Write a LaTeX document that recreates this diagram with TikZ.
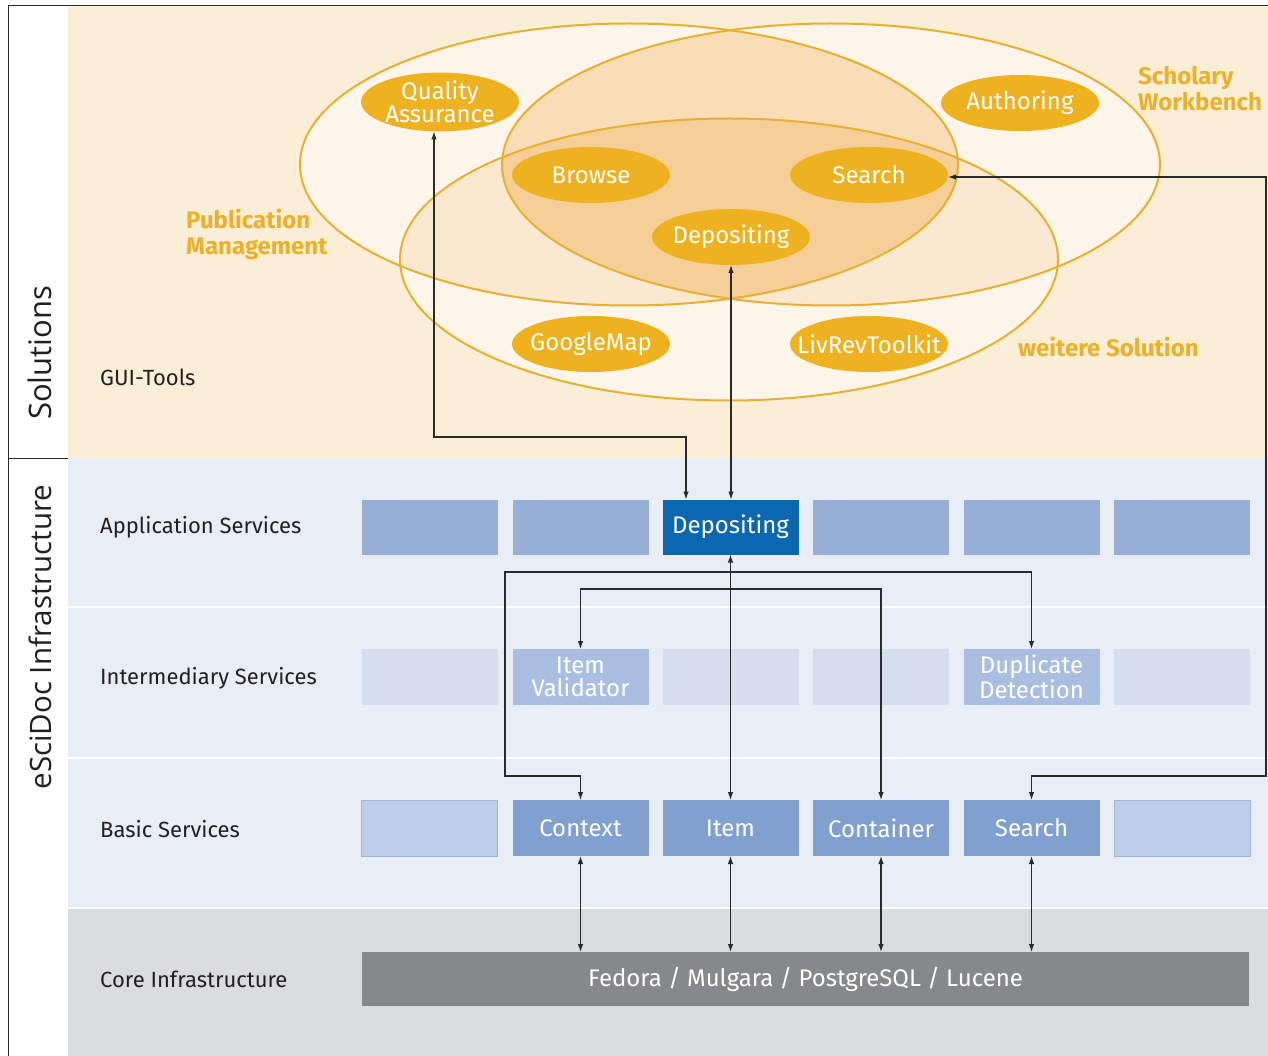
\documentclass[tikz,border=0pt]{standalone}
\usepackage{fontspec}
\setmainfont{Fira Sans}
\newfontfamily\sidefont{Open Sans}
\usetikzlibrary{shapes.geometric,arrows.meta}
\definecolor{cream}{HTML}{FBEED6}
\definecolor{pale}{HTML}{FDF5EA}
\definecolor{peach}{HTML}{F2B25A}
\definecolor{gold}{HTML}{EEB11F}
\definecolor{goldtxt}{HTML}{EBB12A}
\definecolor{outl}{HTML}{E8B031}
\definecolor{band}{HTML}{E9EDF6}
\definecolor{coreband}{HTML}{DBDCDE}
\definecolor{appbox}{HTML}{97AFD7}
\definecolor{depbox}{HTML}{0C67B1}
\definecolor{interfaint}{HTML}{D6DDEE}
\definecolor{interact}{HTML}{A9BEE0}
\definecolor{basicact}{HTML}{80A0D0}
\definecolor{basicfaint}{HTML}{BFCEE8}
\definecolor{basicborder}{HTML}{A3B5D6}
\definecolor{corebar}{HTML}{87888A}
\definecolor{linec}{HTML}{2A2A2A}
\definecolor{txt}{HTML}{231F20}
\newcommand\ellPM{(629,164.5) ellipse [x radius=329pt,y radius=141pt]}
\newcommand\ellSW{(831,164.5) ellipse [x radius=329pt,y radius=141pt]}
\newcommand\ellWS{(729,259.5) ellipse [x radius=329pt,y radius=141pt]}
\newcommand\zw[1]{\makebox[0pt]{#1}}
\begin{document}
\begin{tikzpicture}[x=1pt,y=-1pt,
  svc/.style={rectangle,minimum width=136pt,minimum height=55pt,inner sep=0pt,outer sep=0pt,text=white,font=\fontsize{24}{22.5}\selectfont,align=center},
  faintbox/.style={svc,fill=basicfaint,draw=basicborder,line width=0.8pt},
  tool/.style={ellipse,fill=gold,minimum width=158pt,minimum height=56pt,inner sep=0pt,outer sep=0pt,text=white,font=\fontsize{24}{21.5}\selectfont,align=center},
  rowlabel/.style={anchor=west,text=txt,font=\fontsize{22}{26}\selectfont,inner sep=0pt},
  sollabel/.style={anchor=west,text=goldtxt,font=\bfseries\fontsize{24}{26}\selectfont,align=left,inner sep=0pt},
  sidelabel/.style={rotate=90,text=txt,inner sep=0pt},
  conn/.style={draw=linec,line width=1.1pt,-{Latex[length=8pt,width=5.5pt]}},
  biconn/.style={draw=linec,line width=1.1pt,{Latex[length=8pt,width=5.5pt]}-{Latex[length=8pt,width=5.5pt]}},
  bigoutline/.style={draw=outl,line width=2pt}
]
\useasboundingbox (0,0) rectangle (1268,1056);
% backgrounds
\fill[white] (0,0) rectangle (1268,1056);
\fill[cream] (68,6) rectangle (1268,458);
\fill[band] (68,458) rectangle (1268,908);
\fill[coreband] (68,908) rectangle (1268,1056);
\draw[white,line width=2pt] (68,607) -- (1268,607);
\draw[white,line width=2pt] (68,758) -- (1268,758);
\draw[white,line width=1.5pt] (68,908) -- (1268,908);
% frame
\draw[linec,line width=1pt] (8,1056) -- (8,6) -- (1268,6);
\draw[linec,line width=1pt] (8,458) -- (68,458);
% solution ellipses
\fill[pale] \ellPM;
\fill[pale] \ellSW;
\fill[pale] \ellWS;
\begin{scope}\clip \ellPM; \fill[peach,opacity=0.35] \ellSW; \end{scope}
\begin{scope}\clip \ellPM; \fill[peach,opacity=0.18] \ellWS; \end{scope}
\begin{scope}\clip \ellSW; \fill[peach,opacity=0.18] \ellWS; \end{scope}
\draw[bigoutline] \ellPM;
\draw[bigoutline] \ellSW;
\draw[bigoutline] \ellWS;
% side labels
\node[sidelabel,font=\sidefont\fontsize{31}{33}\selectfont] (solutions) at (40,353) {Solutions};
\node[sidelabel,font=\sidefont\fontsize{29.5}{31}\selectfont] (infra) at (40,637) {eSciDoc Infrastructure};
% solution labels
\node[sollabel] (pm) at (186,234) {Publication\\Management};
\node[sollabel] (sw) at (1138,89) {Scholary\\Workbench};
\node[sollabel] (ws) at (1018,347) {weitere Solution};
\node[rowlabel] (gui) at (100,377) {GUI-Tools};
% tools
\node[tool] (qa) at (440,102) {\zw{Quality}\\\zw{Assurance}};
\node[tool] (auth) at (1020,103) {\zw{Authoring}};
\node[tool] (browse) at (591,175) {\zw{Browse}};
\node[tool] (tsearch) at (869,175) {\zw{Search}};
\node[tool] (depo) at (731,237) {\zw{Depositing}};
\node[tool] (gmap) at (591,344) {\zw{GoogleMap}};
\node[tool] (livrev) at (869,344) {\zw{LivRevToolkit}};
% row labels
\node[rowlabel] (lapp) at (100,527) {Application Services};
\node[rowlabel] (linter) at (100,678) {Intermediary Services};
\node[rowlabel] (lbasic) at (100,829) {Basic Services};
\node[rowlabel] (lcore) at (100,979) {Core Infrastructure};
% application services
\node[svc,fill=appbox] (a1) at (429.5,527) {};
\node[svc,fill=appbox] (a2) at (580.5,527) {};
\node[svc,fill=depbox] (appdep) at (730.5,527) {Depositing};
\node[svc,fill=appbox] (a4) at (881,527) {};
\node[svc,fill=appbox] (a5) at (1031.5,527) {};
\node[svc,fill=appbox] (a6) at (1182,527) {};
% intermediary services
\node[svc,fill=interfaint,minimum height=56pt] (i1) at (429.5,677) {};
\node[svc,fill=interact,minimum height=56pt] (ival) at (580.5,677) {Item\\Validator};
\node[svc,fill=interfaint,minimum height=56pt] (i3) at (730.5,677) {};
\node[svc,fill=interfaint,minimum height=56pt] (i4) at (881,677) {};
\node[svc,fill=interact,minimum height=56pt] (dupdet) at (1031.5,677) {Duplicate\\Detection};
\node[svc,fill=interfaint,minimum height=56pt] (i6) at (1182,677) {};
% basic services
\node[faintbox,minimum height=56pt] (b1) at (429.5,828) {};
\node[svc,fill=basicact,minimum height=56pt] (context) at (580.5,828) {Context};
\node[svc,fill=basicact,minimum height=56pt] (item) at (730.5,828) {Item};
\node[svc,fill=basicact,minimum height=56pt] (container) at (881,828) {Container};
\node[svc,fill=basicact,minimum height=56pt] (bsearch) at (1031.5,828) {Search};
\node[faintbox,minimum height=56pt] (b6) at (1182,828) {};
% core
\node[svc,fill=corebar,minimum width=887pt,minimum height=54pt] (core) at (805.5,979) {Fedora / Mulgara / PostgreSQL / Lucene};
% helper coordinates
\coordinate (qaturn) at (434,437);
\coordinate (rtop) at (1266,177);
\coordinate (rbot) at (1266,776);
\coordinate (ctxtop) at (505,572);
\coordinate (ctxbot) at (505,776);
\coordinate (ivline) at (0,589);
% connectors
\draw[biconn] ([xshift=-6pt]qa.south) -- (qaturn) -| ([xshift=-44.5pt]appdep.north);
\draw[biconn] (depo.south) -- (depo.south |- appdep.north);
\draw[biconn] (tsearch.east |- rtop) -- (rtop) -- (rbot) -| (bsearch.north);
\draw[biconn] (appdep.south) -- (item.north);
\draw[biconn] (context.north) -- (context.north |- ctxbot) -- (ctxbot) -- (ctxtop) -| (dupdet.north);
\draw[biconn] (ival.north) -- (ival.north |- ivline) -| (container.north);
\draw[biconn] (context.south) -- (context.south |- core.north);
\draw[biconn] (item.south) -- (item.south |- core.north);
\draw[biconn] (container.south) -- (container.south |- core.north);
\draw[biconn] (bsearch.south) -- (bsearch.south |- core.north);
\end{tikzpicture}
\end{document}
